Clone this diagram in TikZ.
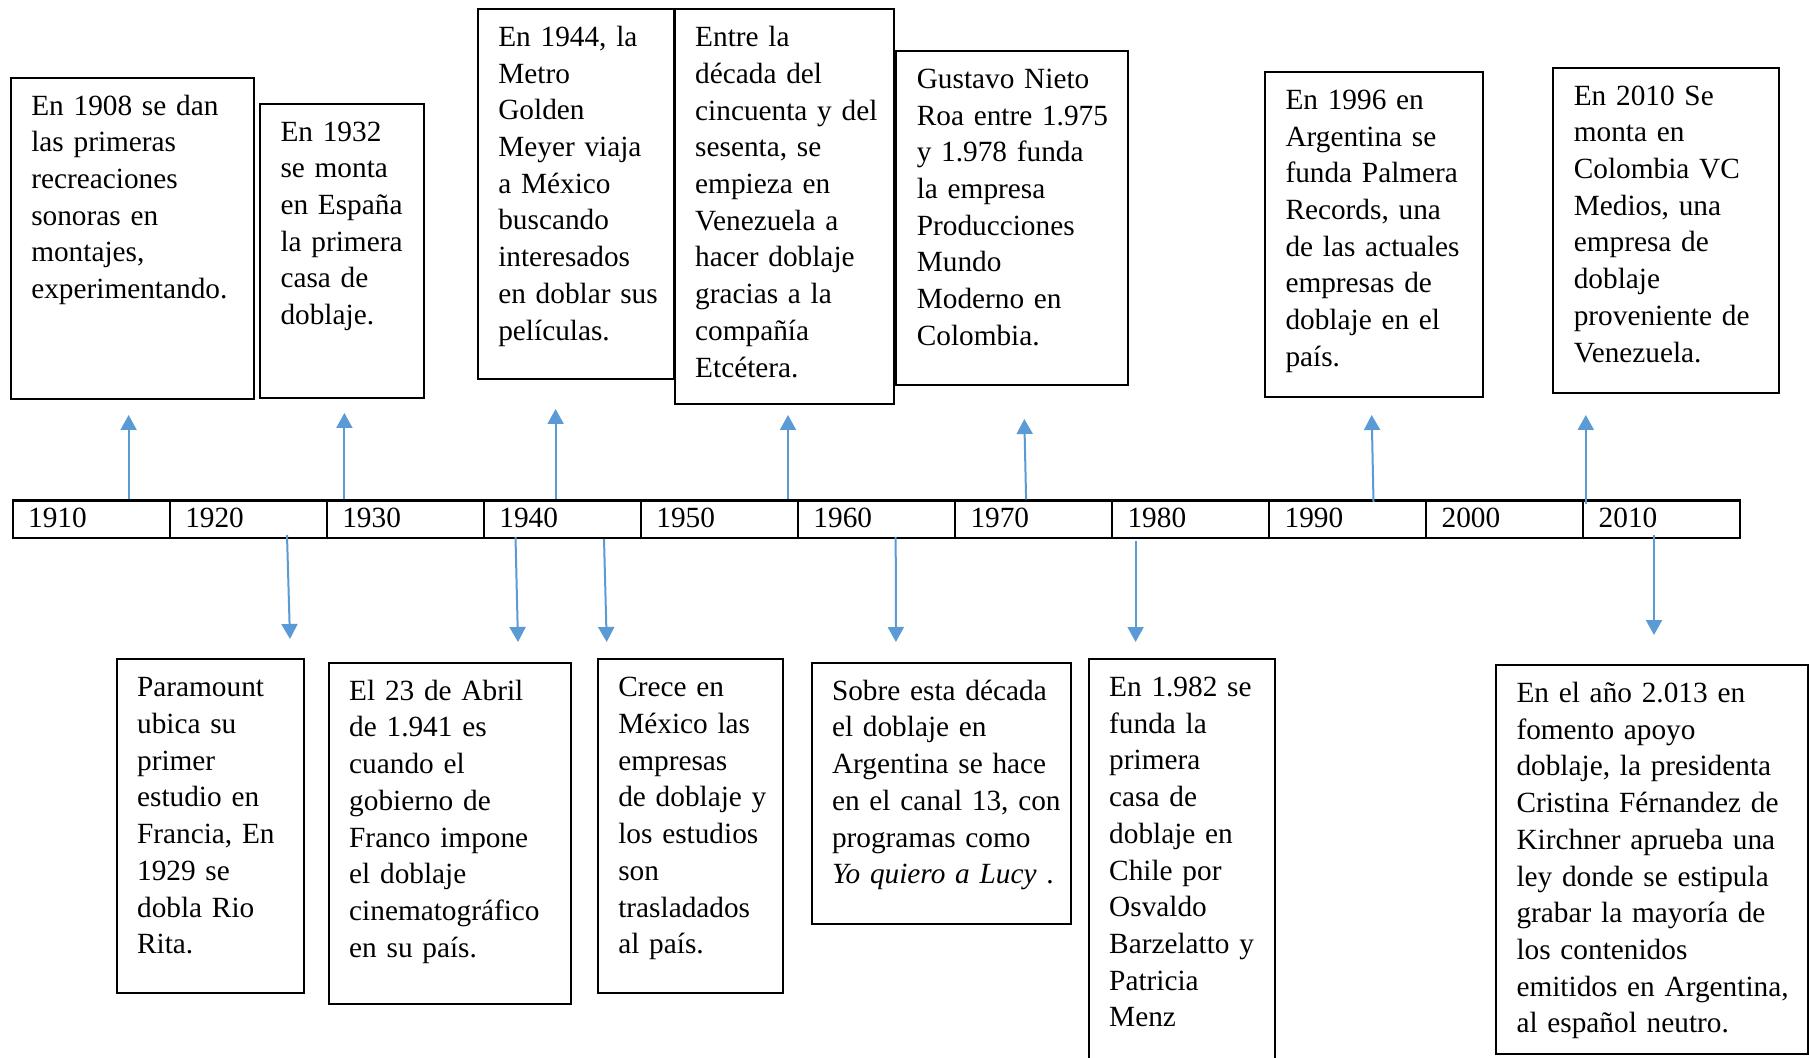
\documentclass[tikz,border=0pt]{standalone}
\usepackage{fontspec}
\setmainfont{Liberation Serif}
\usetikzlibrary{arrows.meta}
\definecolor{evblue}{HTML}{5B9BD5}
\newcommand\evfont{\fontsize{14.65pt}{18.35pt}\selectfont}
\tikzset{
  evbox/.style={draw=black, line width=1pt, anchor=north west, inner xsep=10.25pt,
    inner ysep=0pt, align=left, font=\evfont, text height=18.75pt},
  evcell/.style={draw=black, line width=1.2pt, anchor=north west, inner xsep=7.75pt,
    inner ysep=0pt, text width=63.025pt, align=left, font=\evfont,
    text height=13.6pt, text depth=5.1pt},
  evarr/.style={draw=evblue, line width=1pt, -{Triangle[length=7.5pt,width=8pt]}}
}
\begin{document}
\begin{tikzpicture}[x=0.5pt,y=-0.5pt]
\useasboundingbox (0,0) rectangle (1809,1058);
\fill[white] (0,0) rectangle (1809,1058);
\clip (0,0) rectangle (1809,1058);

% top boxes
\node[evbox, text width=101.1pt, text depth=142.05pt] (b1908) at (9.8,76.7)
  {\mbox{En 1908 se dan}\\\mbox{las primeras}\\\mbox{recreaciones}\\\mbox{sonoras en}\\\mbox{montajes,}\\\mbox{experimentando.}};
\node[evbox, text width=61.5pt, text depth=128.55pt] (b1932) at (259,102.7)
  {\mbox{En 1932}\\\mbox{se monta}\\\mbox{en España}\\\mbox{la primera}\\\mbox{casa de}\\\mbox{doblaje.}};
\node[evbox, text width=77.6pt, text depth=166.1pt] (b1944) at (476.8,8)
  {\mbox{En 1944, la}\\\mbox{Metro}\\\mbox{Golden}\\\mbox{Meyer viaja}\\\mbox{a México}\\\mbox{buscando}\\\mbox{interesados}\\\mbox{en doblar sus}\\\mbox{películas.}};
\node[evbox, text width=89.35pt, text depth=178.45pt] (b1950) at (673.7,8.3)
  {\mbox{Entre la}\\\mbox{década del}\\\mbox{cincuenta y del}\\\mbox{sesenta, se}\\\mbox{empieza en}\\\mbox{Venezuela a}\\\mbox{hacer doblaje}\\\mbox{gracias a la}\\\mbox{compañía}\\\mbox{Etcétera.}};
\node[evbox, text width=95.1pt, text depth=148.25pt] (b1975) at (895.3,50)
  {\mbox{Gustavo Nieto}\\\mbox{Roa entre 1.975}\\\mbox{y 1.978 funda}\\\mbox{la empresa}\\\mbox{Producciones}\\\mbox{Mundo}\\\mbox{Moderno en}\\\mbox{Colombia.}};
\node[evbox, text width=88.7pt, text depth=143.75pt] (b1996) at (1264,71)
  {\mbox{En 1996 en}\\\mbox{Argentina se}\\\mbox{funda Palmera}\\\mbox{Records, una}\\\mbox{de las actuales}\\\mbox{empresas de}\\\mbox{doblaje en el}\\\mbox{país.}};
\node[evbox, text width=92.1pt, text depth=143.75pt] (b2010) at (1552.3,66.7)
  {\mbox{En 2010 Se}\\\mbox{monta en}\\\mbox{Colombia VC}\\\mbox{Medios, una}\\\mbox{empresa de}\\\mbox{doblaje}\\\mbox{proveniente de}\\\mbox{Venezuela.}};

% bottom boxes
\node[evbox, text width=73.2pt, text depth=147.95pt] (b1929) at (115.6,658.3)
  {\mbox{Paramount}\\\mbox{ubica su}\\\mbox{primer}\\\mbox{estudio en}\\\mbox{Francia, En}\\\mbox{1929 se}\\\mbox{dobla Rio}\\\mbox{Rita.}};
\node[evbox, text width=100.45pt, text depth=152.05pt] (b1941) at (327.7,661.7)
  {\mbox{El 23 de Abril}\\\mbox{de 1.941 es}\\\mbox{cuando el}\\\mbox{gobierno de}\\\mbox{Franco impone}\\\mbox{el doblaje}\\\mbox{cinematográfico}\\\mbox{en su país.}};
\node[evbox, text width=72.1pt, text depth=147.95pt] (bmex) at (596.8,658.3)
  {\mbox{Crece en}\\\mbox{México las}\\\mbox{empresas}\\\mbox{de doblaje y}\\\mbox{los estudios}\\\mbox{son}\\\mbox{trasladados}\\\mbox{al país.}};
\node[evbox, text width=109pt, text depth=111.75pt] (b1960) at (810.5,661.7)
  {\mbox{Sobre esta década}\\\mbox{el doblaje en}\\\mbox{Argentina se hace}\\\mbox{en el canal 13, con}\\\mbox{programas como}\\\mbox{\textit{Yo quiero a Lucy} .}};
\node[evbox, text width=72.65pt, text depth=192.25pt] (b1982) at (1087.7,658)
  {\mbox{En 1.982 se}\\\mbox{funda la}\\\mbox{primera}\\\mbox{casa de}\\\mbox{doblaje en}\\\mbox{Chile por}\\\mbox{Osvaldo}\\\mbox{Barzelatto y}\\\mbox{Patricia}\\\mbox{Menz}};
\node[evbox, text width=135.65pt, text depth=175.75pt] (b2013) at (1495,664)
  {\mbox{En el año 2.013 en}\\\mbox{fomento apoyo}\\\mbox{doblaje, la presidenta}\\\mbox{Cristina Férnandez de}\\\mbox{Kirchner aprueba una}\\\mbox{ley donde se estipula}\\\mbox{grabar la mayoría de}\\\mbox{los contenidos}\\\mbox{emitidos en Argentina,}\\\mbox{al español neutro.}};

% timeline
\foreach \i/\yr in {0/1910,1/1920,2/1930,3/1940,4/1950,5/1960,6/1970,7/1980,8/1990,9/2000,10/2010}
  \node[evcell] (y\yr) at ({11.5+157.05*\i},499.3) {\yr};

% arrow end points
\coordinate (u1s) at (128.6,499.3);  \coordinate (u1e) at (128.6,415);
\coordinate (u2s) at (344.4,499.3);  \coordinate (u2e) at (344.4,413);
\coordinate (u3s) at (555.6,499.3);  \coordinate (u3e) at (555.6,409);
\coordinate (u4s) at (788,499.3);    \coordinate (u4e) at (788,415);
\coordinate (u5s) at (1026.1,499.3); \coordinate (u5e) at (1024.3,419);
\coordinate (u6s) at (1373.5,502);   \coordinate (u6e) at (1371.7,415);
\coordinate (u7s) at (1585.8,504);   \coordinate (u7e) at (1585.8,415);

\coordinate (d1s) at (287,535);      \coordinate (d1e) at (290,639);
\coordinate (d2s) at (515.5,537);    \coordinate (d2e) at (518,642);
\coordinate (d3s) at (604,539);      \coordinate (d3e) at (606.7,642);
\coordinate (d4s) at (895.7,537);    \coordinate (d4e) at (895.9,642);
\coordinate (d5s) at (1135.6,541);   \coordinate (d5e) at (1135.6,642);
\coordinate (d6s) at (1654,535);     \coordinate (d6e) at (1654,635);

\foreach \a in {u1,u2,u3,u4,u5,u6,u7,d1,d2,d3,d4,d5,d6}
  \draw[evarr] (\a s) -- (\a e);
\end{tikzpicture}
\end{document}
